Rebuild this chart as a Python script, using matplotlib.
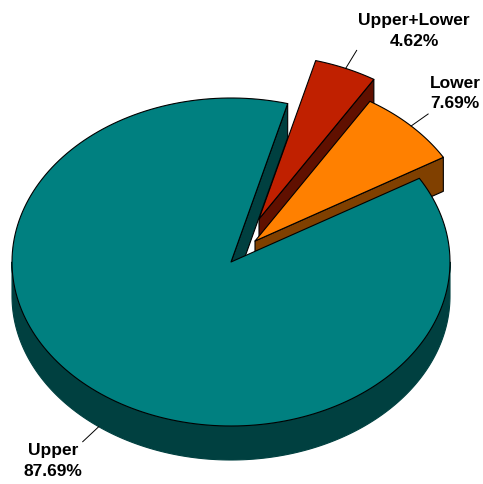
# exploded 3D pie of upper / lower share

import numpy as np
import matplotlib.pyplot as plt
from matplotlib.patches import Polygon

names = ['Upper+Lower', 'Lower', 'Upper']
values = [4.62, 7.69, 87.69]
top_colors = ['#C02000', '#FF8000', '#008080']
side_colors = ['#601000', '#804000', '#004040']

# pie geometry in pixels
cx, cy = 231, 262
rx, ry = 219, 164
depth = 34
start = 75.0
shifts = [(28, -43), (24, -21), (0, 0)]
text_pos = [(414, 20), (455, 83), (53, 451)]
leader_len = [(11, -18), (17, -12), (-16, 15)]

plt.rcParams['font.family'] = ['Liberation Sans', 'DejaVu Sans']
fig = plt.figure(figsize=(4.83, 4.84), dpi=100)
ax = fig.add_axes([0, 0, 1, 1])
ax.set_xlim(0, 483)
ax.set_ylim(484, 0)
ax.axis('off')

lw = 0.8


def arc(x0, y0, t1, t2):
    t = np.radians(np.linspace(t1, t2, 200))
    return np.column_stack([x0 + rx * np.cos(t), y0 - ry * np.sin(t)])


def poly(pts, color, z, edge='black', w=lw):
    ax.add_patch(Polygon(pts, closed=True, fc=color, ec=edge, lw=w, zorder=z, joinstyle='round'))


angle = start
z = 1
for name, v, c, sc, sh, tp, ll in zip(names, values, top_colors, side_colors, shifts, text_pos, leader_len):
    a1 = angle
    a2 = angle - v / 100 * 360
    angle = a2
    x0, y0 = cx + sh[0], cy + sh[1]

    # cut face on the side we can see
    p = arc(x0, y0, a2, a2)[0]
    poly([(x0, y0), p, (p[0], p[1] + depth), (x0, y0 + depth)], sc, z)

    # outer wall, only the part facing us
    lo, hi = max(a2, -180), min(a1, 0)
    if hi > lo:
        wall = arc(x0, y0, lo, hi)
        poly(np.vstack([wall, wall[::-1] + [0, depth]]), sc, z, edge=sc)

    poly(np.vstack([[(x0, y0)], arc(x0, y0, a1, a2)]), c, z + 1)

    # leader and label
    mid = (a1 + a2) / 2
    m = arc(x0, y0, mid, mid)[0]
    if np.sin(np.radians(mid)) < 0:
        m = m + [0, depth]
    ax.plot([m[0], m[0] + ll[0]], [m[1], m[1] + ll[1]], color='black', lw=0.7, zorder=z + 2)
    ax.text(tp[0], tp[1], name, ha='center', va='center', fontsize=12.5, fontweight='bold', zorder=20)
    ax.text(tp[0], tp[1] + 21, f'{v:.2f}%', ha='center', va='center', fontsize=12.5, fontweight='bold', zorder=20)
    z += 3

fig.savefig('out.png', dpi=100)
